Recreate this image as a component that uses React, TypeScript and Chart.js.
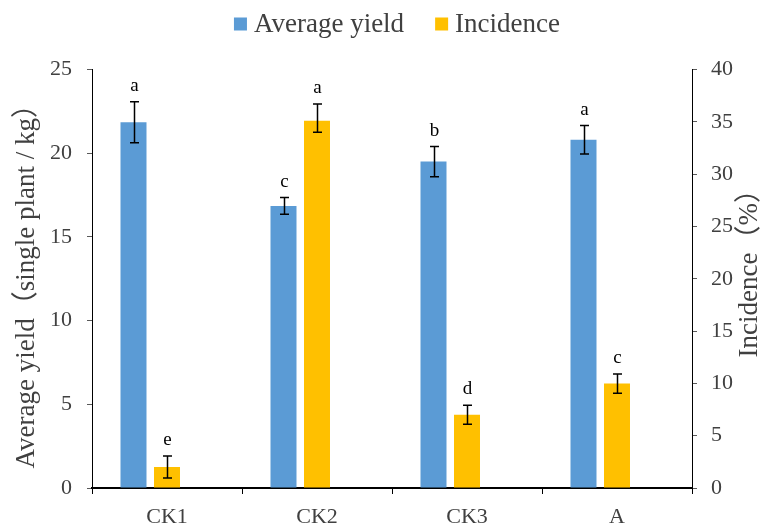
import React, { useEffect, useRef } from 'react';
import { Chart, registerables } from 'chart.js';

Chart.register(...registerables);

const categories = ['CK1', 'CK2', 'CK3', 'A'];
const seriesNames = ['Average yield', 'Incidence'];
const yieldValues = [21.85, 16.85, 19.5, 20.8];
const yieldErrUp = [1.22, 0.5, 0.9, 0.85];
const yieldErrDown = [1.22, 0.5, 0.9, 0.85];
const incidenceValues = [2.0, 35.1, 7.0, 10.0];
const incidenceErrUp = [1.05, 1.6, 0.9, 0.9];
const incidenceErrDown = [1.05, 1.1, 0.9, 0.95];
const yieldLetters = ['a', 'c', 'b', 'a'];
const incidenceLetters = ['e', 'a', 'd', 'c'];
const leftTitle = 'Average yield（single plant / kg）';
const rightTitle = 'Incidence（%）';
const leftMax = 25;
const rightMax = 40;
const tickStep = 5;

const BLUE = '#5B9BD5';
const YELLOW = '#FFC000';
const TEXT = '#404040';
const SERIF = "'Liberation Serif', 'Times New Roman', 'Noto Sans CJK SC', serif";

const overlayPlugin = {
  id: 'overlay',
  afterDatasetsDraw(chart: any) {
    const ctx = chart.ctx;
    const specs = [
      { ds: 0, axis: 'y', vals: yieldValues, up: yieldErrUp, down: yieldErrDown, letters: yieldLetters },
      { ds: 1, axis: 'y1', vals: incidenceValues, up: incidenceErrUp, down: incidenceErrDown, letters: incidenceLetters },
    ];
    ctx.save();
    specs.forEach((s) => {
      const meta = chart.getDatasetMeta(s.ds);
      const scale = chart.scales[s.axis];
      meta.data.forEach((bar: any, i: number) => {
        const x = Math.round(bar.x) + 0.5;
        const yTop = scale.getPixelForValue(s.vals[i] + s.up[i]);
        const yBot = scale.getPixelForValue(s.vals[i] - s.down[i]);
        ctx.strokeStyle = '#000';
        ctx.lineWidth = 1.5;
        ctx.beginPath();
        ctx.moveTo(x, yTop);
        ctx.lineTo(x, yBot);
        ctx.moveTo(x - 4.5, yTop);
        ctx.lineTo(x + 4.5, yTop);
        ctx.moveTo(x - 4.5, yBot);
        ctx.lineTo(x + 4.5, yBot);
        ctx.stroke();
        ctx.fillStyle = '#000';
        ctx.font = `19px ${SERIF}`;
        ctx.textAlign = 'center';
        ctx.textBaseline = 'alphabetic';
        ctx.fillText(s.letters[i], x, yTop - 11);
      });
    });
    ctx.restore();
  },
  afterDraw(chart: any) {
    const ctx = chart.ctx;
    const area = chart.chartArea;
    ctx.save();
    // legend
    ctx.font = `27px ${SERIF}`;
    const box = 13;
    const gap = 7;
    const spacing = 31;
    const ds = chart.data.datasets.slice(0, 2);
    const widths = ds.map((d: any) => box + gap + ctx.measureText(d.label).width);
    const total = widths[0] + spacing + widths[1];
    let x = (area.left + area.right) / 2 + 5 - total / 2;
    const cy = 24;
    ds.forEach((d: any, i: number) => {
      ctx.fillStyle = d.backgroundColor;
      ctx.fillRect(x, cy - box / 2, box, box);
      ctx.fillStyle = TEXT;
      ctx.textAlign = 'left';
      ctx.textBaseline = 'middle';
      ctx.fillText(d.label, x + box + gap, cy + 1);
      x += widths[i] + spacing;
    });
    // axis titles
    ctx.fillStyle = TEXT;
    ctx.textAlign = 'center';
    ctx.textBaseline = 'middle';
    const midY = (area.top + area.bottom) / 2;
    ctx.save();
    ctx.font = `27px ${SERIF}`;
    ctx.translate(chart.scales.y.left + 27, midY + 1);
    ctx.rotate(-Math.PI / 2);
    ctx.fillText(leftTitle, 0, 0);
    ctx.restore();
    ctx.save();
    ctx.font = `27px ${SERIF}`;
    ctx.translate(chart.scales.y1.right - 22, midY - 12);
    ctx.rotate(-Math.PI / 2);
    ctx.fillText(rightTitle, 0, 0);
    ctx.restore();
    ctx.restore();
  },
};

export default function App() {
  const ref = useRef<HTMLCanvasElement>(null);
  useEffect(() => {
    const chart = new Chart(ref.current as HTMLCanvasElement, {
      type: 'bar',
      data: {
        labels: categories,
        datasets: [
          { label: seriesNames[0], data: yieldValues, backgroundColor: BLUE, yAxisID: 'y' },
          { label: seriesNames[1], data: incidenceValues, backgroundColor: YELLOW, yAxisID: 'y1' },
          { label: '', data: categories.map(() => null), backgroundColor: 'rgba(0,0,0,0)', yAxisID: 'y' },
        ],
      },
      options: {
        animation: false,
        responsive: true,
        maintainAspectRatio: false,
        layout: { padding: 0 },
        datasets: { bar: { categoryPercentage: 0.67, barPercentage: 0.776 } },
        plugins: { legend: { display: false }, tooltip: { enabled: false } },
        scales: {
          x: {
            grid: { display: true, drawOnChartArea: false, offset: true, tickLength: 6, color: '#000', lineWidth: 1 },
            border: { color: '#000', width: 2 },
            ticks: { font: { family: SERIF, size: 22 }, color: TEXT, padding: 10 },
            afterFit: (s: any) => { s.height = 37; },
          },
          y: {
            position: 'left',
            min: 0,
            max: leftMax,
            ticks: { stepSize: tickStep, padding: 15, font: { family: SERIF, size: 22 }, color: TEXT },
            grid: { drawOnChartArea: false, tickLength: 5, color: '#595959' },
            border: { color: '#000', width: 1 },
            afterFit: (s: any) => { s.width = 92; s.paddingTop = 69.5; },
          },
          y1: {
            position: 'right',
            min: 0,
            max: rightMax,
            ticks: { stepSize: tickStep, padding: 14, font: { family: SERIF, size: 22 }, color: TEXT },
            grid: { drawOnChartArea: false, tickLength: 5, color: '#595959' },
            border: { color: '#000', width: 1 },
            afterFit: (s: any) => { s.width = 80; },
          },
        },
      },
      plugins: [overlayPlugin],
    } as any);
    return () => chart.destroy();
  }, []);
  return (
    <div style={{ position: 'fixed', left: 0, top: 0, width: 772, height: 525, background: '#fff' }}>
      <canvas ref={ref} />
    </div>
  );
}
